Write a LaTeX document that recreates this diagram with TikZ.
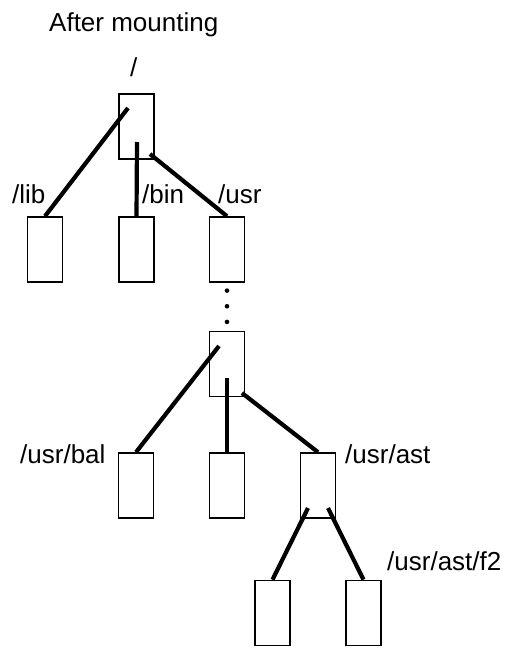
\documentclass[tikz,border=0pt]{standalone}
\usepackage{fontspec}
\setmainfont{Liberation Sans}
\begin{document}
\begin{tikzpicture}[x=1pt,y=-1pt,
  dirbox/.style={draw=black,line width=1.6pt,minimum width=35pt,minimum height=65pt,inner sep=0pt,fill=white},
  link/.style={line width=4.2pt},
  dotmark/.style={circle,fill=black,inner sep=0pt,minimum size=4.6pt},
  lbl/.style={font=\fontsize{26}{30}\selectfont,inner sep=0pt,anchor=base west}]
\useasboundingbox (0,0) rectangle (525,648);
% boxes
\node[dirbox] (root) at (136.5,126.5) {};
\node[dirbox] (lib) at (45,249.5) {};
\node[dirbox] (bin) at (136.5,249.5) {};
\node[dirbox] (usr) at (227,249.5) {};
\node[dirbox] (mid) at (227,364) {};
\node[dirbox] (bal) at (136,485.5) {};
\node[dirbox] (mid2) at (227,485.5) {};
\node[dirbox] (ast) at (318,485.5) {};
\node[dirbox] (fa) at (272.5,613) {};
\node[dirbox] (fb) at (363.5,613) {};
% labels
\node[lbl] (title) at (49,31) {After mounting};
\node[lbl] (rootl) at (130,76) {/};
\node[lbl] (libl) at (12,203) {/lib};
\node[lbl] (binl) at (142,203) {/bin};
\node[lbl] (usrl) at (218,203) {/usr};
\node[lbl] (ball) at (20,463) {/usr/bal};
\node[lbl] (astl) at (345,463) {/usr/ast};
\node[lbl] (f2l) at (387,570) {/usr/ast/f2};
% connectors
\draw[link] ([shift={(-8.5,-18.5)}]root.center) -- (lib.north);
\draw[link] ([shift={(0.5,15.5)}]root.center) -- (bin.north);
\draw[link] ([shift={(13.5,27.5)}]root.center) -- (usr.north);
\path (usr.south) -- (mid.north)
  node[dotmark,pos=0.163] (d1) {}
  node[dotmark,pos=0.49] (d2) {}
  node[dotmark,pos=0.816] (d3) {};
\draw[link] ([shift={(-8,-18)}]mid.center) -- (bal.north);
\draw[link] ([shift={(0,14)}]mid.center) -- (mid2.north);
\draw[link] ([shift={(15,29)}]mid.center) -- (ast.north);
\draw[link] ([shift={(-10,22.5)}]ast.center) -- (fa.north);
\draw[link] ([shift={(10,22.5)}]ast.center) -- (fb.north);
\end{tikzpicture}
\end{document}
